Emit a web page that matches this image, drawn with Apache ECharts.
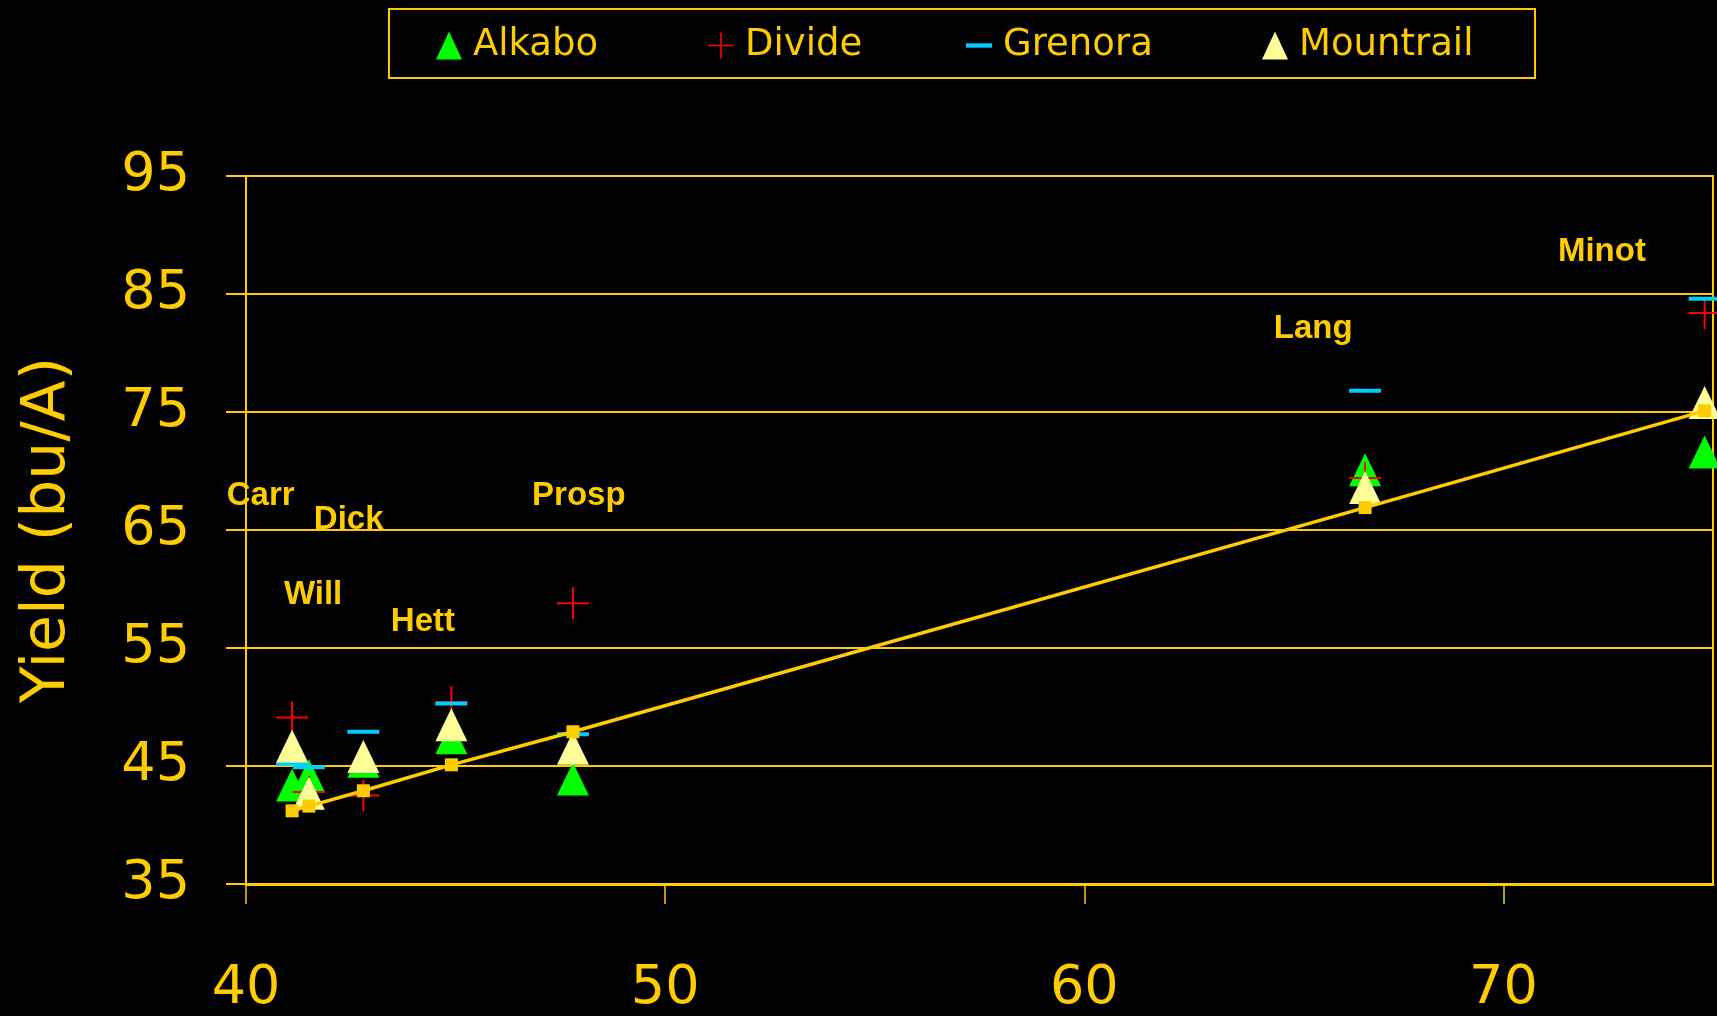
<!DOCTYPE html>
<html>
<head>
<meta charset="utf-8">
<script src="https://cdn.jsdelivr.net/npm/echarts@6/dist/echarts.min.js"></script>
<style>
  html, body { margin: 0; padding: 0; background: #000; }
  #chart { width: 1717px; height: 1016px; }
</style>
</head>
<body>
<div id="chart"></div>
<script>
// ---- data ----
const sites      = ['Carr', 'Will', 'Dick', 'Hett', 'Prosp', 'Lang', 'Minot'];
const siteMean   = [41.1, 41.5, 42.8, 44.9, 47.8, 66.7, 74.8];   // x values
const alkabo     = [43.4, 44.2, 45.4, 47.4, 43.9, 70.1, 71.6];
const divide     = [49.1, 42.8, 42.5, 50.4, 58.8, 69.4, 83.4];
const grenora    = [45.2, 44.9, 47.9, 50.3, 47.7, 76.8, 84.6];
const mountrail  = [46.7, 42.7, 45.8, 48.5, 46.5, 68.6, 75.8];
const fitted     = [41.2, 41.6, 42.9, 45.1, 47.9, 66.9, 75.1];
const siteLabelX = [40.35, 41.6, 42.45, 44.22, 47.94, 65.46, 72.35];
const siteLabelY = [67.92, 59.48, 65.87, 57.2, 67.92, 82.03, 88.54];
const xTicks     = [40, 50, 60, 70];
const yTicks     = [35, 45, 55, 65, 75, 85, 95];
const legendNames = ['Alkabo', 'Divide', 'Grenora', 'Mountrail'];

const YEL = '#FFCC00';
const pairs = ys => siteMean.map((x, i) => [x, ys[i]]);

const plusPath = 'path://M0,15 H32 V17 H0 Z M15,0 H17 V32 H15 Z';
const dashPath = 'path://M0,0 H30 V5 H0 Z';
const legendIcons = ['triangle', plusPath, dashPath, 'triangle'];
const legendLeft = [436, 708, 966, 1262];

const chart = echarts.init(document.getElementById('chart'), null, { renderer: 'canvas' });
const option = {
  backgroundColor: '#000',
  animation: false,
  textStyle: { fontFamily: 'DejaVu Sans' },
  graphic: [{
    type: 'rect', left: 388, top: 8, silent: true,
    shape: { width: 1146, height: 69 },
    style: { fill: 'rgba(0,0,0,0)', stroke: YEL, lineWidth: 2 }
  }],
  legend: legendNames.map((n, i) => ({
    left: legendLeft[i], top: 27,
    orient: 'horizontal', padding: 0,
    itemWidth: 26, itemHeight: 28,
    selectedMode: false,
    textStyle: { color: YEL, fontSize: 37, fontFamily: 'DejaVu Sans', padding: [0, 0, 0, 6] },
    data: [{ name: n, icon: legendIcons[i] }]
  })),
  grid: { left: 246, right: 4, top: 176, bottom: 131, show: true, borderColor: YEL, borderWidth: 2, backgroundColor: 'transparent' },
  xAxis: {
    type: 'value', min: 40, max: 75, interval: 10,
    axisLine: { show: true, lineStyle: { color: YEL, width: 3 } },
    axisTick: { show: true, inside: false, length: 20, customValues: xTicks, lineStyle: { color: YEL, width: 1.5 } },
    axisLabel: { show: true, customValues: xTicks, color: YEL, fontSize: 54, fontFamily: 'DejaVu Sans', margin: 78 },
    splitLine: { show: false }
  },
  yAxis: {
    type: 'value', min: 35, max: 95, interval: 10,
    name: 'Yield (bu/A)', nameLocation: 'middle', nameGap: 168, nameRotate: 90,
    nameTextStyle: { color: YEL, fontSize: 60, fontFamily: 'DejaVu Sans' },
    axisLine: { show: true, lineStyle: { color: YEL, width: 2 } },
    axisTick: { show: true, inside: false, length: 20, customValues: yTicks, lineStyle: { color: YEL, width: 2 } },
    axisLabel: { show: true, customValues: yTicks, color: YEL, fontSize: 54, fontFamily: 'DejaVu Sans', margin: 56 },
    splitLine: { show: true, lineStyle: { color: YEL, width: 2 } }
  },
  series: [
    { name: 'Alkabo', type: 'scatter', data: pairs(alkabo), symbol: 'triangle', symbolSize: [32, 33],
      itemStyle: { color: '#00FF00', opacity: 1 }, z: 2 },
    { name: 'Divide', type: 'scatter', data: pairs(divide), symbol: plusPath, symbolSize: [32, 32],
      itemStyle: { color: '#FF0000', opacity: 1 }, z: 3 },
    { name: 'Grenora', type: 'scatter', data: pairs(grenora), symbol: 'rect', symbolSize: [32, 4],
      itemStyle: { color: '#00CCFF', opacity: 1 }, z: 4 },
    { name: 'Mountrail', type: 'scatter', data: pairs(mountrail), symbol: 'triangle', symbolSize: [32, 33],
      itemStyle: { color: '#FFFF99', opacity: 1 }, z: 5 },
    { name: 'fit', type: 'line', data: pairs(fitted), symbol: 'rect', symbolSize: 13, showSymbol: true,
      lineStyle: { color: YEL, width: 3.5 }, itemStyle: { color: YEL, opacity: 1 }, z: 6 },
    { name: 'sites', type: 'scatter', symbolSize: 1, itemStyle: { color: 'rgba(0,0,0,0)', opacity: 1 }, silent: true, z: 7,
      data: sites.map((s, i) => ({ name: s, value: [siteLabelX[i], siteLabelY[i]] })),
      label: { show: true, position: 'inside', formatter: '{b}', color: YEL, opacity: 1, fontSize: 33,
               fontWeight: 'bold', fontFamily: 'Liberation Sans' } }
  ]
};
chart.setOption(option);
</script>
</body>
</html>
